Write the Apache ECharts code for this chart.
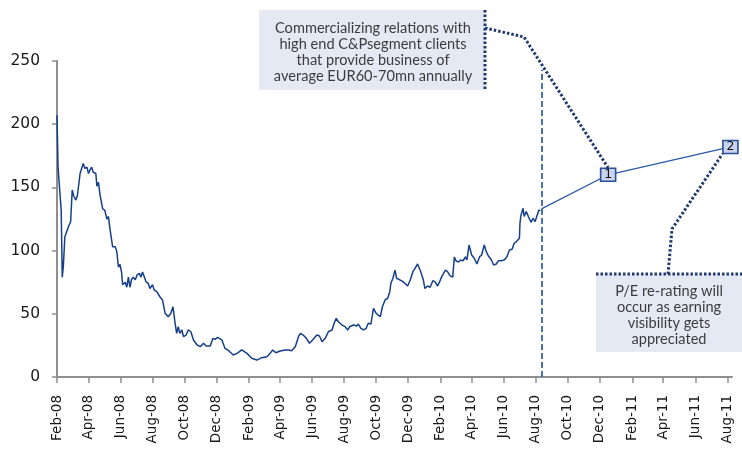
<!DOCTYPE html>
<html>
<head>
<meta charset="utf-8">
<script src="https://cdn.jsdelivr.net/npm/echarts@6/dist/echarts.min.js"></script>
<style>
  html, body { margin: 0; padding: 0; background: #ffffff; }
  #chart { width: 742px; height: 454px; }
</style>
</head>
<body>
<div id="chart"></div>
<script>
// Share price history
const priceDates = [
  '2008-02-01','2008-02-03','2008-02-07','2008-02-09','2008-02-11','2008-02-13','2008-02-16','2008-02-19','2008-02-23','2008-02-27',
  '2008-03-01','2008-03-04','2008-03-08','2008-03-11','2008-03-16','2008-03-19','2008-03-22','2008-03-25','2008-03-29',
  '2008-04-01','2008-04-04','2008-04-07','2008-04-10','2008-04-15','2008-04-17','2008-04-20','2008-04-23','2008-04-26','2008-04-28',
  '2008-05-02','2008-05-06','2008-05-09','2008-05-11','2008-05-13','2008-05-17','2008-05-22','2008-05-25','2008-05-28','2008-05-31',
  '2008-06-03','2008-06-05','2008-06-10','2008-06-13','2008-06-16','2008-06-19','2008-06-22','2008-06-25','2008-06-29',
  '2008-07-03','2008-07-07','2008-07-10','2008-07-13','2008-07-16','2008-07-20','2008-07-24','2008-07-27',
  '2008-08-01','2008-08-04','2008-08-09','2008-08-15','2008-08-20','2008-08-25','2008-08-31',
  '2008-09-05','2008-09-09','2008-09-13','2008-09-16','2008-09-19','2008-09-22','2008-09-26','2008-09-29',
  '2008-10-04','2008-10-08','2008-10-13','2008-10-18','2008-10-25','2008-10-31',
  '2008-11-06','2008-11-11','2008-11-19','2008-11-24','2008-11-28',
  '2008-12-03','2008-12-06','2008-12-11','2008-12-17','2008-12-24','2008-12-27',
  '2009-01-02','2009-01-09','2009-01-18','2009-01-28',
  '2009-02-06','2009-02-16','2009-02-25',
  '2009-03-07','2009-03-13','2009-03-18','2009-03-24',
  '2009-04-01','2009-04-11','2009-04-17','2009-04-23','2009-04-30',
  '2009-05-06','2009-05-10','2009-05-15','2009-05-21','2009-05-27',
  '2009-06-02','2009-06-10','2009-06-15','2009-06-20','2009-06-26',
  '2009-07-02','2009-07-09','2009-07-13','2009-07-17','2009-07-21','2009-07-28',
  '2009-08-03','2009-08-08','2009-08-12','2009-08-19','2009-08-25','2009-08-28',
  '2009-09-02','2009-09-07','2009-09-12','2009-09-16','2009-09-21','2009-09-26',
  '2009-10-01','2009-10-05','2009-10-09','2009-10-13','2009-10-18','2009-10-23','2009-10-27','2009-10-29',
  '2009-11-02','2009-11-06','2009-11-09','2009-11-16','2009-11-21','2009-11-25','2009-11-30',
  '2009-12-05','2009-12-10','2009-12-14','2009-12-19','2009-12-22','2009-12-25','2009-12-30',
  '2010-01-02','2010-01-07','2010-01-12','2010-01-17','2010-01-21','2010-01-26','2010-01-30',
  '2010-02-03','2010-02-10','2010-02-14','2010-02-19','2010-02-24','2010-02-27',
  '2010-03-02','2010-03-07','2010-03-11','2010-03-16','2010-03-20','2010-03-23','2010-03-27',
  '2010-04-01','2010-04-06','2010-04-11','2010-04-16','2010-04-20','2010-04-25','2010-04-29',
  '2010-05-03','2010-05-08','2010-05-13','2010-05-18','2010-05-22','2010-05-27',
  '2010-06-02','2010-06-07','2010-06-12','2010-06-17','2010-06-21','2010-06-25','2010-06-28',
  '2010-07-01','2010-07-02','2010-07-04','2010-07-08','2010-07-10','2010-07-14','2010-07-18','2010-07-23','2010-07-27','2010-07-31',
  '2010-08-03','2010-08-07','2010-08-10'
];
const priceValues = [
  207,166,143,132,79,87,111,112,119,123,
  148,143,140,144,161,162,169,165,166,
  161,164,166,162,161,151,154,144,143,133,
  132,125,127,120,114,103,103,99,87,89,
  83,73,75,71,79,71,77,79,77,
  81,82,79,83,83,75,74,70,
  73,69,67.5,63.5,61,50.4,47.7,
  50.4,55.6,42.5,34.6,39.8,34.6,37.2,32,
  33.2,37.2,35.8,29.3,25.3,24,
  26.7,24.5,24.5,30.6,29.8,
  31.4,32.4,29.3,22.7,20.8,20,
  17.4,18.7,21.4,18.7,
  14.8,13.4,15.3,
  16,18.7,21.4,19.2,
  20.6,21.4,21.4,20.8,24,
  31.9,34.6,33.2,30.6,26.7,
  29.3,33.2,32.4,27.9,30.6,
  35.8,37.2,42.5,46.4,43.7,41.1,
  39.8,37.2,40,41.1,40.3,41.9,
  38.5,37.2,38.5,42.5,41.9,54.3,
  50.4,49,47.7,55.6,61,62.3,67.5,74,
  78.1,84.6,78.1,76.7,75.4,74,72,
  76.7,83.3,86,89.4,88.6,83.3,76.7,
  70,72,71,76.2,75.4,72,75.4,
  79.4,84.6,83.3,80,79,95,
  92,91,92.6,92,95,92.6,104.4,
  96.5,94,89.4,95,96.5,104.4,99,
  95.7,93,88.6,89.4,92,92,
  92.6,95,100.5,101,105.8,107,105.8,
  109.7,121.5,128,133.5,127,131,127,122.4,125.5,123,
  127,132,131.6
];

// Projected path with milestones
const forecastDates = ['2010-08-12', '2010-12-17', '2011-08-07'];
const forecastValues = [133, 160, 182];
const forecastMarks = ['', '1', '2'];

// Cut-off between history and projection
const cutoffDate = '2010-08-13';
const cutoffTop = 243;

// Axis ticks
const xTickDates = [
  '2008-02-01','2008-04-01','2008-06-01','2008-08-01','2008-10-01','2008-12-01',
  '2009-02-01','2009-04-01','2009-06-01','2009-08-01','2009-10-01','2009-12-01',
  '2010-02-01','2010-04-01','2010-06-01','2010-08-01','2010-10-01','2010-12-01',
  '2011-02-01','2011-04-01','2011-06-01','2011-08-01'
];
const xStart = '2008-02-01';
const xEnd = '2011-08-10';
const yMax = 250;
const yStep = 50;

const note1Lines = [
  'Commercializing relations with',
  'high end C&Psegment clients',
  'that provide business of',
  'average EUR60-70mn annually'
];
const note2Lines = [
  'P/E re-rating will',
  'occur as earning',
  'visibility gets',
  'appreciated'
];

const MONTHS = ['Jan','Feb','Mar','Apr','May','Jun','Jul','Aug','Sep','Oct','Nov','Dec'];
function ts(s) {
  const p = s.split('-').map(Number);
  return new Date(p[0], p[1] - 1, p[2]).getTime();
}
function monthLabel(v) {
  const d = new Date(v);
  return MONTHS[d.getMonth()] + '-' + String(d.getFullYear() % 100).padStart(2, '0');
}

const priceSeries = priceDates.map((d, i) => [ts(d), priceValues[i]]);
const forecastSeries = forecastDates.map((d, i) => {
  const item = { value: [ts(d), forecastValues[i]] };
  if (!forecastMarks[i]) item.symbol = 'none';
  return item;
});
const tickValues = xTickDates.map(ts);

const axisGray = '#8f8f8f';
const chart = echarts.init(document.getElementById('chart'), null, { renderer: 'canvas' });

chart.setOption({
  animation: false,
  backgroundColor: '#ffffff',
  grid: { left: 57, right: 10, top: 61, bottom: 77 },
  xAxis: {
    type: 'value',
    min: ts(xStart),
    max: ts(xEnd),
    scale: true,
    splitLine: { show: false },
    axisLine: { lineStyle: { color: axisGray, width: 2 } },
    axisTick: { show: true, customValues: tickValues, length: 6, lineStyle: { color: axisGray, width: 1.5 } },
    axisLabel: {
      customValues: tickValues,
      rotate: 90,
      margin: 18,
      formatter: monthLabel,
      fontFamily: 'DejaVu Sans',
      fontSize: 13.5,
      color: '#1a1a1a',
      hideOverlap: false
    }
  },
  yAxis: {
    type: 'value',
    min: 0,
    max: yMax,
    interval: yStep,
    splitLine: { show: false },
    axisLine: { show: true, lineStyle: { color: axisGray, width: 2 } },
    axisTick: { show: true, length: 5, lineStyle: { color: axisGray, width: 1.5 } },
    axisLabel: { margin: 17, fontFamily: 'DejaVu Sans', fontSize: 15.5, color: '#1a1a1a' }
  },
  series: [
    {
      type: 'line',
      data: priceSeries,
      showSymbol: false,
      symbol: 'none',
      lineStyle: { color: '#163f8a', width: 1.5 },
      z: 3,
      markLine: {
        silent: true,
        symbol: 'none',
        label: { show: false },
        lineStyle: { color: '#4a70b0', width: 2, type: [6, 3] },
        data: [[
          { coord: [ts(cutoffDate), 0] },
          { coord: [ts(cutoffDate), cutoffTop] }
        ]]
      }
    },
    {
      type: 'line',
      data: forecastSeries,
      symbol: 'rect',
      symbolSize: [15, 13],
      showAllSymbol: true,
      lineStyle: { color: '#2a5aa8', width: 1.3 },
      itemStyle: { color: '#c7d4ec', borderColor: '#2b4f9a', borderWidth: 1.5 },
      label: {
        show: true,
        position: 'inside',
        formatter: p => forecastMarks[p.dataIndex],
        fontFamily: 'DejaVu Sans',
        fontSize: 12.5,
        color: '#111111'
      },
      z: 4
    }
  ]
});

// Callout boxes and their dotted leaders
const p1 = chart.convertToPixel({ gridIndex: 0 }, [ts(forecastDates[1]), forecastValues[1]]);
const p2 = chart.convertToPixel({ gridIndex: 0 }, [ts(forecastDates[2]), forecastValues[2]]);
const dotted = { stroke: '#1f3a6e', lineWidth: 3, lineDash: [2.5, 2], fill: null };
const noteFont = { fontFamily: 'Lato', fontSize: 14.6, fill: '#3c3c3c', align: 'center', verticalAlign: 'middle', lineHeight: 16 };

chart.setOption({
  graphic: [
    { type: 'rect', shape: { x: 259, y: 10, width: 226, height: 80 }, style: { fill: '#e5e9f4' }, z: 10 },
    { type: 'text', x: 373, y: 52, style: Object.assign({ text: note1Lines.join('\n') }, noteFont), z: 11 },
    { type: 'polyline', shape: { points: [[485, 10], [485, 90]] }, style: dotted, z: 11 },
    { type: 'polyline', shape: { points: [[485, 28], [524, 37], [p1[0], p1[1] - 7]] }, style: dotted, z: 11 },

    { type: 'rect', shape: { x: 596, y: 274, width: 146, height: 78 }, style: { fill: '#e5e9f4' }, z: 10 },
    { type: 'text', x: 669, y: 315, style: Object.assign({ text: note2Lines.join('\n') }, noteFont), z: 11 },
    { type: 'polyline', shape: { points: [[596, 274], [742, 274]] }, style: dotted, z: 11 },
    { type: 'polyline', shape: { points: [[668, 274], [672, 229], [p2[0] - 8, p2[1] + 7]] }, style: dotted, z: 11 }
  ]
});
</script>
</body>
</html>
